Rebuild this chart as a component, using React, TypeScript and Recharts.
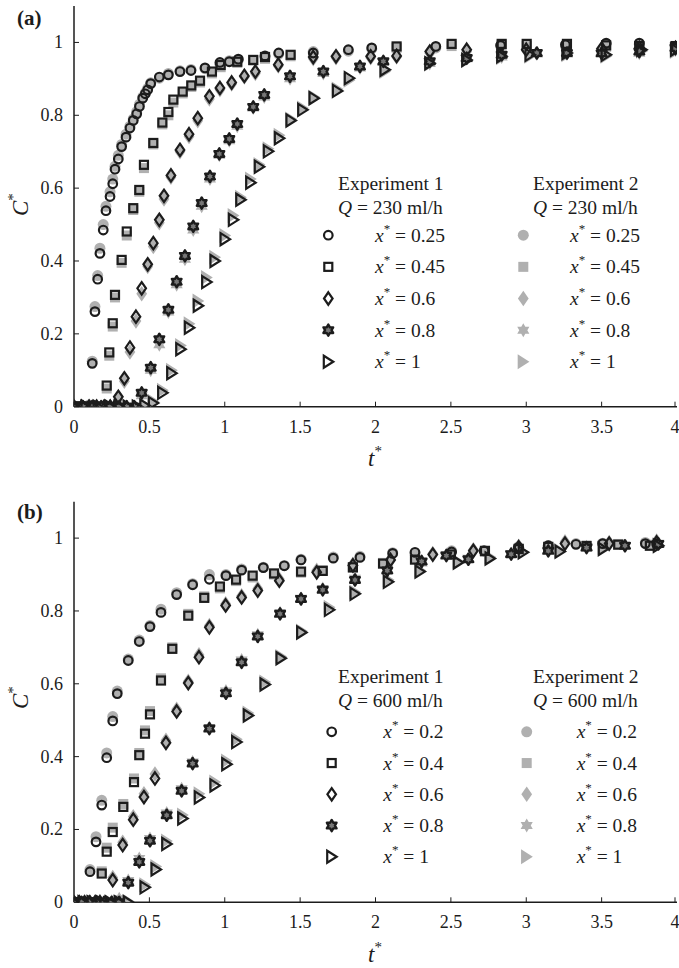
import { ScatterChart, Scatter, XAxis, YAxis } from 'recharts';

const FONT = '"Liberation Serif", "Times New Roman", Times, serif';
const INK = '#1c1c1c';
const GREY = '#b0b0b0';

const xTicks = [0, 0.5, 1, 1.5, 2, 2.5, 3, 3.5, 4];
const yTicks = [0, 0.2, 0.4, 0.6, 0.8, 1];
const topTicks = [0.5, 1, 1.5, 2, 2.5, 3, 3.5];

// panel (a), Q = 230 ml/h  -- [t*, C*]
const a1_025 = [[0,0],[0.02,0],[0.04,0],[0.06,0],[0.08,0],[0.1,0],[0.121,0.119],[0.139,0.261],[0.157,0.35],[0.172,0.421],[0.194,0.485],[0.212,0.538],[0.239,0.577],[0.257,0.612],[0.272,0.652],[0.294,0.68],[0.316,0.714],[0.345,0.74],[0.371,0.765],[0.393,0.786],[0.416,0.804],[0.434,0.824],[0.456,0.847],[0.473,0.859],[0.489,0.87],[0.509,0.887],[0.566,0.905],[0.626,0.911],[0.703,0.92],[0.776,0.923],[0.869,0.93],[0.968,0.945],[1.03,0.947],[1.09,0.954],[1.267,0.963],[1.358,0.971],[1.587,0.971],[1.82,0.98],[1.975,0.985],[2.4,0.989],[2.83,0.992],[3.26,0.994],[3.53,0.998],[3.75,0.998],[3.99,0.989]];
const a2_025 = [[0,0],[0.02,0],[0.04,0],[0.06,0],[0.08,0],[0.1,0.005],[0.121,0.125],[0.139,0.275],[0.157,0.36],[0.172,0.435],[0.194,0.5],[0.212,0.55],[0.239,0.59],[0.257,0.625],[0.272,0.66],[0.294,0.69],[0.316,0.72],[0.345,0.748],[0.371,0.77],[0.393,0.79],[0.416,0.81],[0.434,0.83],[0.456,0.85],[0.473,0.862],[0.489,0.874],[0.509,0.889],[0.566,0.902],[0.626,0.915],[0.703,0.922],[0.776,0.926],[0.869,0.928],[0.968,0.94],[1.03,0.95],[1.09,0.952],[1.267,0.96],[1.358,0.968],[1.587,0.975],[1.82,0.976],[1.975,0.982],[2.4,0.985],[2.83,0.99],[3.26,0.99],[3.53,0.995],[3.75,0.995],[3.99,0.985]];
const a1_045 = [[0,0],[0.04,0],[0.08,0],[0.12,0],[0.16,0],[0.19,0],[0.217,0.058],[0.234,0.149],[0.257,0.229],[0.272,0.307],[0.316,0.403],[0.35,0.481],[0.393,0.545],[0.433,0.595],[0.464,0.664],[0.526,0.724],[0.586,0.78],[0.626,0.809],[0.659,0.843],[0.721,0.865],[0.778,0.882],[0.836,0.895],[0.915,0.92],[0.973,0.938],[1.083,0.947],[1.189,0.952],[1.267,0.96],[1.437,0.966],[2.14,0.989],[2.505,0.996],[2.837,0.996],[3.003,0.996],[3.27,0.996],[3.53,0.992],[3.75,0.99],[3.99,0.99]];
const a2_045 = [[0,0],[0.04,0],[0.08,0],[0.12,0],[0.16,0],[0.19,0],[0.217,0.05],[0.234,0.14],[0.257,0.22],[0.272,0.3],[0.316,0.395],[0.35,0.47],[0.393,0.54],[0.433,0.59],[0.464,0.655],[0.526,0.72],[0.586,0.775],[0.626,0.8],[0.659,0.835],[0.721,0.86],[0.778,0.878],[0.836,0.89],[0.915,0.915],[0.973,0.932],[1.083,0.944],[1.189,0.95],[1.267,0.955],[1.437,0.962],[2.14,0.985],[2.505,0.99],[2.837,0.992],[3.003,0.99],[3.27,0.99],[3.53,0.988],[3.75,0.99],[3.99,0.985]];
const a1_06 = [[0,0],[0.05,0],[0.1,0],[0.15,0],[0.2,0],[0.24,0],[0.27,0],[0.294,0.027],[0.334,0.078],[0.371,0.162],[0.411,0.247],[0.449,0.325],[0.489,0.391],[0.526,0.449],[0.566,0.513],[0.597,0.579],[0.643,0.635],[0.703,0.705],[0.763,0.748],[0.821,0.792],[0.898,0.852],[0.968,0.875],[1.046,0.89],[1.13,0.908],[1.203,0.92],[1.355,0.939],[1.587,0.96],[1.738,0.962],[1.968,0.962],[2.14,0.963],[2.36,0.975],[2.605,0.98],[3.0,0.98],[3.5,0.983],[3.75,0.985],[3.99,0.985]];
const a2_06 = [[0,0],[0.05,0],[0.1,0],[0.15,0],[0.2,0],[0.24,0],[0.27,0],[0.294,0.02],[0.334,0.07],[0.371,0.15],[0.411,0.235],[0.449,0.31],[0.489,0.385],[0.526,0.44],[0.566,0.505],[0.597,0.57],[0.643,0.63],[0.703,0.7],[0.763,0.742],[0.821,0.785],[0.898,0.845],[0.968,0.87],[1.046,0.886],[1.13,0.905],[1.203,0.915],[1.355,0.935],[1.587,0.955],[1.738,0.958],[1.968,0.958],[2.14,0.96],[2.36,0.97],[2.605,0.975],[3.0,0.978],[3.5,0.98],[3.75,0.99],[3.99,0.982]];
const a1_08 = [[0,0],[0.06,0],[0.12,0],[0.18,0],[0.24,0],[0.3,0],[0.35,0],[0.4,0],[0.449,0.038],[0.509,0.107],[0.566,0.185],[0.626,0.266],[0.681,0.343],[0.736,0.414],[0.791,0.495],[0.847,0.559],[0.902,0.632],[0.964,0.694],[1.03,0.735],[1.083,0.776],[1.189,0.823],[1.262,0.856],[1.433,0.907],[1.654,0.92],[1.897,0.934],[2.052,0.948],[2.36,0.948],[2.605,0.957],[2.837,0.966],[3.07,0.971],[3.27,0.971],[3.5,0.97],[3.75,0.975],[3.99,0.985]];
const a2_08 = [[0,0],[0.06,0],[0.12,0],[0.18,0],[0.24,0],[0.3,0],[0.35,0],[0.4,0],[0.449,0.03],[0.509,0.1],[0.566,0.17],[0.626,0.26],[0.681,0.335],[0.736,0.405],[0.791,0.485],[0.847,0.55],[0.902,0.625],[0.964,0.69],[1.03,0.73],[1.083,0.77],[1.189,0.82],[1.262,0.85],[1.433,0.9],[1.654,0.915],[1.897,0.93],[2.052,0.945],[2.36,0.942],[2.605,0.955],[2.837,0.96],[3.07,0.968],[3.27,0.968],[3.5,0.975],[3.75,0.97],[3.99,0.98]];
const a1_1 = [[0,0],[0.08,0],[0.16,0],[0.24,0],[0.3,0],[0.36,0],[0.42,0],[0.47,0.003],[0.526,0.01],[0.588,0.038],[0.648,0.092],[0.708,0.158],[0.765,0.217],[0.824,0.277],[0.88,0.342],[0.935,0.4],[1.002,0.46],[1.057,0.513],[1.106,0.568],[1.172,0.615],[1.229,0.659],[1.289,0.701],[1.362,0.737],[1.439,0.786],[1.517,0.815],[1.592,0.847],[1.747,0.867],[1.826,0.902],[2.063,0.925],[2.36,0.943],[2.605,0.952],[2.837,0.962],[3.025,0.966],[3.27,0.971],[3.53,0.966],[3.766,0.98],[3.99,0.98]];
const a2_1 = [[0,0],[0.08,0],[0.16,0],[0.24,0],[0.3,0],[0.36,0],[0.42,0],[0.47,0.005],[0.526,0.015],[0.588,0.045],[0.648,0.1],[0.708,0.168],[0.765,0.228],[0.824,0.29],[0.88,0.355],[0.935,0.41],[1.002,0.47],[1.057,0.525],[1.106,0.575],[1.172,0.625],[1.229,0.665],[1.289,0.708],[1.362,0.745],[1.439,0.79],[1.517,0.82],[1.592,0.85],[1.747,0.872],[1.826,0.896],[2.063,0.92],[2.36,0.94],[2.605,0.95],[2.837,0.958],[3.025,0.962],[3.27,0.966],[3.53,0.962],[3.766,0.976],[3.99,0.975]];

// panel (b), Q = 600 ml/h
const b1_02 = [[0,0],[0.02,0],[0.04,0],[0.06,0],[0.08,0],[0.106,0.084],[0.146,0.166],[0.184,0.267],[0.217,0.397],[0.257,0.498],[0.287,0.573],[0.36,0.664],[0.433,0.716],[0.504,0.757],[0.577,0.796],[0.681,0.845],[0.787,0.872],[0.898,0.887],[1.008,0.897],[1.112,0.912],[1.256,0.919],[1.395,0.924],[1.506,0.94],[1.72,0.945],[1.897,0.947],[2.114,0.958],[2.262,0.961],[2.505,0.962],[2.72,0.965],[2.947,0.974],[3.146,0.979],[3.33,0.983],[3.507,0.985],[3.79,0.985],[3.865,0.984]];
const b2_02 = [[0,0],[0.02,0],[0.04,0],[0.06,0],[0.08,0],[0.106,0.09],[0.146,0.18],[0.184,0.28],[0.217,0.41],[0.257,0.51],[0.287,0.58],[0.36,0.668],[0.433,0.72],[0.504,0.76],[0.577,0.805],[0.681,0.85],[0.787,0.875],[0.898,0.9],[1.008,0.9],[1.112,0.915],[1.256,0.92],[1.395,0.925],[1.506,0.942],[1.72,0.948],[1.897,0.95],[2.114,0.96],[2.262,0.958],[2.505,0.965],[2.72,0.966],[2.947,0.976],[3.146,0.98],[3.33,0.985],[3.507,0.986],[3.79,0.988],[3.865,0.986]];
const b1_04 = [[0,0],[0.03,0],[0.06,0],[0.09,0],[0.12,0],[0.15,0],[0.184,0.079],[0.217,0.139],[0.257,0.193],[0.327,0.262],[0.398,0.33],[0.433,0.404],[0.471,0.463],[0.504,0.516],[0.577,0.609],[0.652,0.696],[0.758,0.787],[0.864,0.836],[0.968,0.867],[1.075,0.886],[1.185,0.897],[1.327,0.903],[1.506,0.908],[1.65,0.91],[1.85,0.92],[2.05,0.93],[2.262,0.941],[2.5,0.955],[2.726,0.965],[2.95,0.97],[3.146,0.976],[3.4,0.978],[3.61,0.982],[3.82,0.979]];
const b2_04 = [[0,0],[0.03,0],[0.06,0],[0.09,0],[0.12,0],[0.15,0],[0.184,0.085],[0.217,0.15],[0.257,0.205],[0.327,0.27],[0.398,0.34],[0.433,0.41],[0.471,0.472],[0.504,0.525],[0.577,0.615],[0.652,0.7],[0.758,0.792],[0.864,0.84],[0.968,0.862],[1.075,0.882],[1.185,0.892],[1.327,0.9],[1.506,0.905],[1.65,0.912],[1.85,0.918],[2.05,0.932],[2.262,0.945],[2.5,0.958],[2.726,0.962],[2.95,0.972],[3.146,0.975],[3.4,0.98],[3.61,0.984],[3.82,0.982]];
const b1_06 = [[0,0],[0.035,0],[0.07,0],[0.105,0],[0.14,0],[0.172,0],[0.257,0.061],[0.323,0.157],[0.393,0.227],[0.464,0.289],[0.537,0.34],[0.61,0.438],[0.681,0.524],[0.758,0.602],[0.829,0.673],[0.898,0.755],[1.006,0.815],[1.112,0.837],[1.219,0.856],[1.362,0.883],[1.61,0.906],[1.85,0.925],[2.1,0.94],[2.38,0.955],[2.649,0.965],[2.95,0.975],[3.257,0.985],[3.55,0.985],[3.865,0.988]];
const b2_06 = [[0,0],[0.035,0],[0.07,0],[0.105,0],[0.14,0],[0.172,0.002],[0.257,0.068],[0.323,0.165],[0.393,0.235],[0.464,0.298],[0.537,0.352],[0.61,0.445],[0.681,0.53],[0.758,0.607],[0.829,0.68],[0.898,0.76],[1.006,0.82],[1.112,0.842],[1.219,0.862],[1.362,0.888],[1.61,0.912],[1.85,0.928],[2.1,0.942],[2.38,0.958],[2.649,0.968],[2.95,0.978],[3.257,0.99],[3.55,0.988],[3.865,0.992]];
const b1_08 = [[0,0],[0.05,0],[0.1,0],[0.15,0],[0.2,0],[0.25,0],[0.3,0],[0.36,0.054],[0.433,0.111],[0.504,0.169],[0.615,0.239],[0.714,0.306],[0.787,0.381],[0.898,0.477],[1.008,0.574],[1.112,0.659],[1.219,0.73],[1.367,0.792],[1.506,0.833],[1.65,0.858],[1.864,0.885],[2.078,0.911],[2.306,0.936],[2.47,0.952],[2.616,0.942],[2.9,0.956],[3.146,0.965],[3.4,0.974],[3.655,0.979],[3.876,0.984]];
const b2_08 = [[0,0],[0.05,0],[0.1,0],[0.15,0],[0.2,0],[0.25,0.003],[0.3,0.01],[0.36,0.06],[0.433,0.12],[0.504,0.175],[0.615,0.245],[0.714,0.312],[0.787,0.385],[0.898,0.48],[1.008,0.58],[1.112,0.665],[1.219,0.735],[1.367,0.795],[1.506,0.835],[1.65,0.862],[1.864,0.89],[2.078,0.915],[2.306,0.932],[2.47,0.955],[2.616,0.945],[2.9,0.958],[3.146,0.968],[3.4,0.976],[3.655,0.98],[3.876,0.986]];
const b1_1 = [[0,0],[0.06,0],[0.12,0],[0.18,0],[0.24,0],[0.3,0],[0.36,0],[0.471,0.041],[0.544,0.09],[0.615,0.16],[0.721,0.23],[0.831,0.288],[0.935,0.321],[1.013,0.379],[1.079,0.44],[1.156,0.513],[1.267,0.598],[1.373,0.67],[1.51,0.741],[1.694,0.803],[1.864,0.847],[2.085,0.88],[2.295,0.908],[2.549,0.933],[2.76,0.944],[2.98,0.961],[3.224,0.963],[3.511,0.97],[3.876,0.979]];
const b2_1 = [[0,0],[0.06,0],[0.12,0],[0.18,0],[0.24,0],[0.3,0],[0.36,0.003],[0.471,0.048],[0.544,0.098],[0.615,0.168],[0.721,0.24],[0.831,0.298],[0.935,0.33],[1.013,0.388],[1.079,0.448],[1.156,0.52],[1.267,0.605],[1.373,0.675],[1.51,0.745],[1.694,0.81],[1.864,0.852],[2.085,0.886],[2.295,0.912],[2.549,0.936],[2.76,0.948],[2.98,0.962],[3.224,0.966],[3.511,0.974],[3.876,0.982]];

const kinds = ['circle', 'square', 'diamond', 'star', 'triangle'];
const labelsA = ['0.25', '0.45', '0.6', '0.8', '1'];
const labelsB = ['0.2', '0.4', '0.6', '0.8', '1'];

const pts = (arr: number[][]) => arr.map(([t, c]) => ({ t, c }));

function Mark({ cx, cy, kind, filled }: { cx: number; cy: number; kind: string; filled: boolean }) {
  if (cx == null || cy == null) return null;
  const st = filled
    ? { fill: GREY, stroke: 'none' }
    : { fill: 'none', stroke: INK, strokeWidth: 2.2 };
  const s = filled ? 1.25 : 1;
  if (kind === 'circle') return <circle cx={cx} cy={cy} r={filled ? 5.5 : 4.3} {...st} />;
  if (kind === 'square') {
    const h = 4 * s;
    return <rect x={cx - h} y={cy - h} width={2 * h} height={2 * h} {...st} />;
  }
  if (kind === 'diamond') {
    const w = 4.3 * s, h = 6.2 * s;
    return <path d={`M${cx},${cy - h}L${cx + w},${cy}L${cx},${cy + h}L${cx - w},${cy}Z`} {...st} />;
  }
  if (kind === 'star') {
    const R = filled ? 7 : 5.6;
    let d = '';
    for (let i = 0; i < 12; i++) {
      const a = ((-90 + i * 30) * Math.PI) / 180;
      const r = i % 2 === 0 ? R : R * 0.577;
      d += `${i === 0 ? 'M' : 'L'}${cx + r * Math.cos(a)},${cy + r * Math.sin(a)}`;
    }
    return filled
      ? <path d={d + 'Z'} fill={GREY} />
      : <path d={d + 'Z'} fill="#777" stroke={INK} strokeWidth={2.4} strokeLinejoin="round" />;
  }
  const w = 4.5 * s, h = 6 * s;
  return <path d={`M${cx - w},${cy - h}L${cx + w + 0.5},${cy}L${cx - w},${cy + h}Z`} {...st} />;
}

const BottomTick = (props: any) => {
  const { x, y, payload } = props;
  return (
    <g>
      <line x1={x} x2={x} y1={y} y2={y - 5} stroke={INK} strokeWidth={1} />
      <text x={x} y={y + 26} textAnchor="middle" fontFamily={FONT} fontSize={18} fill={INK}>
        {payload.value}
      </text>
    </g>
  );
};

const LeftTick = (props: any) => {
  const { x, y, payload } = props;
  return (
    <g>
      <line x1={x} x2={x + 5} y1={y} y2={y} stroke={INK} strokeWidth={1} />
      <text x={x - 11} y={y + 6} textAnchor="end" fontFamily={FONT} fontSize={18} fill={INK}>
        {payload.value}
      </text>
    </g>
  );
};

type Layout = {
  top: number;
  bottom: number;
  head: number;
  row0: number;
  step: number;
  m1: number;
  x1: number;
  m2: number;
  x2: number;
  tag: number;
  tBase: number;
  cMid: number;
};

function Panel({ tag, q, labels, e1, e2, L }: { tag: string; q: string; labels: string[]; e1: number[][][]; e2: number[][][]; L: Layout }) {
  const axisStroke = { stroke: INK, strokeWidth: 1.5 };
  return (
    <div style={{ position: 'relative', width: 679, height: 484 }}>
      <ScatterChart width={679} height={484} margin={{ top: L.top, right: 2, bottom: L.bottom, left: 34 }}>
        <XAxis type="number" dataKey="t" domain={[0, 4]} ticks={xTicks} height={30} tickSize={0} tickMargin={0}
          tickLine={false} axisLine={axisStroke} tick={<BottomTick />} allowDataOverflow />
        <XAxis xAxisId="top" orientation="top" type="number" dataKey="t" domain={[0, 4]} ticks={topTicks}
          height={0} mirror tick={false} tickSize={5} tickLine={{ stroke: INK }} axisLine={axisStroke} />
        <YAxis type="number" dataKey="c" domain={[0, 1.1]} ticks={yTicks} width={40} tickSize={0} tickMargin={0}
          tickLine={false} axisLine={axisStroke} tick={<LeftTick />} allowDataOverflow />
        <YAxis yAxisId="right" orientation="right" type="number" dataKey="c" domain={[0, 1.1]} ticks={yTicks}
          width={0} mirror tick={false} tickSize={5} tickLine={{ stroke: INK }} axisLine={axisStroke} />
        {e2.map((d, i) => (
          <Scatter key={'g' + i} data={pts(d)} isAnimationActive={false}
            shape={(p: any) => <Mark cx={p.cx} cy={p.cy} kind={kinds[i]} filled />} />
        ))}
        {e1.map((d, i) => (
          <Scatter key={'k' + i} data={pts(d)} isAnimationActive={false}
            shape={(p: any) => <Mark cx={p.cx} cy={p.cy} kind={kinds[i]} filled={false} />} />
        ))}
      </ScatterChart>
      <svg width={679} height={484} style={{ position: 'absolute', left: 0, top: 0, pointerEvents: 'none', overflow: 'visible' }}
        fontFamily={FONT} fill={INK}>
        <text x={17} y={L.tag} fontSize={21} fontWeight="bold">{tag}</text>
        <text x={368} y={L.tBase} fontSize={23} fontStyle="italic">
          t<tspan dy={-10} fontSize={15} fontStyle="normal">*</tspan>
        </text>
        <text x={28} y={L.cMid + 7} fontSize={23} fontStyle="italic" transform={`rotate(-90 28 ${L.cMid + 7})`}>
          C<tspan dy={-10} fontSize={15} fontStyle="normal">*</tspan>
        </text>
        {[338, 533].map((hx, j) => (
          <g key={hx}>
            <text x={hx} y={L.head} fontSize={19.5}>Experiment {j + 1}</text>
            <text x={hx} y={L.head + 23.5} fontSize={19.5}>
              <tspan fontStyle="italic">Q</tspan> = {q} ml/h
            </text>
          </g>
        ))}
        {labels.map((lb, i) => {
          const base = L.row0 + i * L.step;
          return (
            <g key={lb + i}>
              <Mark cx={L.m1} cy={base - 6.5} kind={kinds[i]} filled={false} />
              <Mark cx={L.m2} cy={base - 6.5} kind={kinds[i]} filled />
              {[L.x1, L.x2].map((tx) => (
                <text key={tx} x={tx} y={base} fontSize={19.5}>
                  <tspan fontStyle="italic">x</tspan>
                  <tspan dy={-9} fontSize={13}>*</tspan>
                  <tspan dy={9}> = {lb}</tspan>
                </text>
              ))}
            </g>
          );
        })}
      </svg>
    </div>
  );
}

const layoutA: Layout = { top: 6, bottom: 47.3, head: 190, row0: 241.7, step: 31.65, m1: 328.3, x1: 375, m2: 523.3, x2: 570, tag: 25, tBase: 466, cMid: 209 };
const layoutB: Layout = { top: 17.7, bottom: 35.7, head: 199, row0: 254.3, step: 31.25, m1: 331.7, x1: 383.3, m2: 526.7, x2: 576.7, tag: 35, tBase: 478, cMid: 218 };

export default function App() {
  return (
    <div style={{ position: 'absolute', left: 0, top: 0, width: 679, height: 968, background: '#fff', fontFamily: FONT }}>
      <Panel tag="(a)" q="230" labels={labelsA} L={layoutA}
        e1={[a1_025, a1_045, a1_06, a1_08, a1_1]} e2={[a2_025, a2_045, a2_06, a2_08, a2_1]} />
      <Panel tag="(b)" q="600" labels={labelsB} L={layoutB}
        e1={[b1_02, b1_04, b1_06, b1_08, b1_1]} e2={[b2_02, b2_04, b2_06, b2_08, b2_1]} />
    </div>
  );
}
